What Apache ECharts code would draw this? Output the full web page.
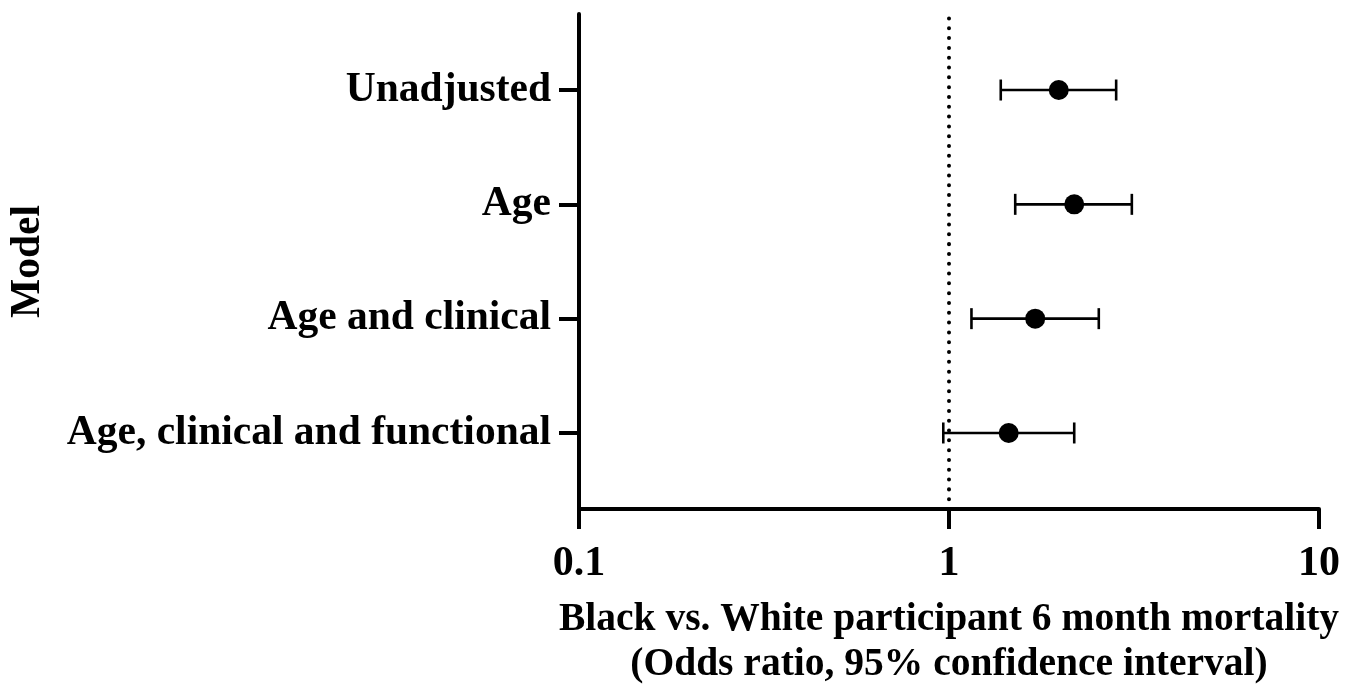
<!DOCTYPE html>
<html>
<head>
<meta charset="utf-8">
<script src="https://cdn.jsdelivr.net/npm/echarts@6/dist/echarts.min.js"></script>
<style>
html,body{margin:0;padding:0;background:#fff;}
#chart{width:1358px;height:688px;}
</style>
</head>
<body>
<div id="chart"></div>
<script>
const categories = ['Unadjusted', 'Age', 'Age and clinical', 'Age, clinical and functional'];
const oddsRatio = [1.98, 2.18, 1.71, 1.45];
const ciLow = [1.38, 1.51, 1.15, 0.965];
const ciHigh = [2.83, 3.12, 2.54, 2.18];
const xTicks = [0.1, 1, 10];
const referenceValue = 1;
const xTitle = 'Black vs. White participant 6 month mortality\n(Odds ratio, 95% confidence interval)';
const yTitle = 'Model';

const n = categories.length;
const yPos = categories.map((c, i) => n - i);
const font = 'Liberation Serif';

const chart = echarts.init(document.getElementById('chart'), null, {renderer: 'canvas'});
const option = {
  animation: false,
  backgroundColor: '#fff',
  grid: {left: 579, right: 39, top: 14, bottom: 179, containLabel: false, outerBoundsMode: 'none'},
  xAxis: {
    type: 'log', logBase: 10, min: xTicks[0], max: xTicks[xTicks.length - 1],
    axisLine: {show: true, lineStyle: {color: '#000', width: 4}},
    axisTick: {show: true, length: 20, lineStyle: {color: '#000', width: 4}},
    minorTick: {show: false},
    splitLine: {show: false},
    axisLabel: {
      color: '#000', fontFamily: font, fontWeight: 'bold', fontSize: 42, lineHeight: 42, margin: 34,
      formatter: v => String(+v.toPrecision(3))
    },
    name: xTitle, nameLocation: 'middle', nameGap: 88,
    nameTextStyle: {color: '#000', fontFamily: font, fontWeight: 'bold', fontSize: 39.5, lineHeight: 45}
  },
  yAxis: {
    type: 'value', min: 1 - 0.665, max: n + 0.665,
    axisLine: {show: true, lineStyle: {color: '#000', width: 4}},
    axisTick: {show: true, length: 20, lineStyle: {color: '#000', width: 4}, customValues: yPos},
    splitLine: {show: false},
    axisLabel: {
      color: '#000', fontFamily: font, fontWeight: 'bold', fontSize: 41.5, margin: 28,
      customValues: yPos,
      formatter: v => categories[n - Math.round(v)]
    },
    name: yTitle, nameLocation: 'middle', nameGap: 530, nameRotate: 90,
    nameTextStyle: {color: '#000', fontFamily: font, fontWeight: 'bold', fontSize: 41.5}
  },
  series: [
    {
      type: 'line',
      data: [[referenceValue, 1 - 0.665], [referenceValue, n + 0.665]],
      showSymbol: false, symbol: 'none', silent: true,
      lineStyle: {color: '#000', width: 4, type: [0.01, 9.8], cap: 'round'},
      z: 1
    },
    {
      type: 'custom',
      data: categories.map((c, i) => [ciLow[i], ciHigh[i], yPos[i]]),
      encode: {x: [0, 1], y: 2},
      renderItem: function (params, api) {
        const p1 = api.coord([api.value(0), api.value(2)]);
        const p2 = api.coord([api.value(1), api.value(2)]);
        const h = 10.5;
        const st = {stroke: '#000', lineWidth: 2.6};
        return {
          type: 'group',
          children: [
            {type: 'line', shape: {x1: p1[0], y1: p1[1], x2: p2[0], y2: p2[1]}, style: st},
            {type: 'line', shape: {x1: p1[0], y1: p1[1] - h, x2: p1[0], y2: p1[1] + h}, style: st},
            {type: 'line', shape: {x1: p2[0], y1: p2[1] - h, x2: p2[0], y2: p2[1] + h}, style: st}
          ]
        };
      },
      z: 2
    },
    {
      type: 'scatter',
      data: categories.map((c, i) => [oddsRatio[i], yPos[i]]),
      symbol: 'circle', symbolSize: 20,
      itemStyle: {color: '#000', opacity: 1},
      z: 3
    }
  ]
};
chart.setOption(option);
</script>
</body>
</html>
